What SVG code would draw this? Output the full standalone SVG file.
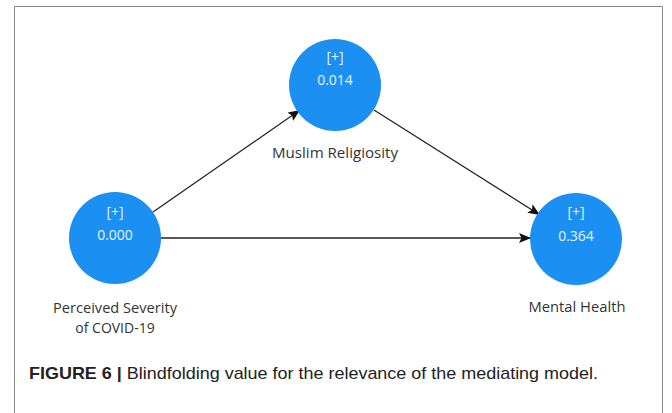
<svg xmlns="http://www.w3.org/2000/svg" width="672" height="413" viewBox="0 0 672 413">
<style>
.node{fill:#1b8ff2}
.in{font-family:"Open Sans","Noto Sans",sans-serif;font-size:14px;fill:#e8f3ff;text-anchor:middle}
.lbl{font-family:"Open Sans","Noto Sans",sans-serif;font-size:14px;fill:#333;text-anchor:middle}
.edge{stroke:#222;stroke-width:1.3;fill:none;marker-end:url(#ah)}
.cap{font-family:"Liberation Sans",Arial,sans-serif;font-size:17px;fill:#222}
</style>
<defs>
<marker id="ah" viewBox="0 0 12 10" refX="12" refY="5" markerWidth="12" markerHeight="10" markerUnits="userSpaceOnUse" orient="auto">
<path d="M0,0 L12,5 L0,10 L2.5,5 Z" fill="#111"/>
</marker>
</defs>
<rect x="0" y="0" width="672" height="413" fill="#fff"/>
<path d="M14.5,420 V6.5 H662.5 V420" fill="none" stroke="#888" stroke-width="1"/>
<g id="connectors">
<line class="edge" x1="161" y1="238" x2="531" y2="238"/>
<line class="edge" x1="153" y1="212" x2="300" y2="110"/>
<line class="edge" x1="374" y1="110" x2="540" y2="215"/>
</g>
<g id="node-perceived">
<circle class="node" cx="115" cy="238" r="46"/>
<text class="in" x="115" y="217">[+]</text>
<text class="in" x="115" y="240">0.000</text>
<text class="lbl" x="115" y="313" textLength="124" lengthAdjust="spacingAndGlyphs">Perceived Severity</text>
<text class="lbl" x="115" y="333">of COVID-19</text>
</g>
<g id="node-muslim">
<circle class="node" cx="335" cy="85" r="46"/>
<text class="in" x="335" y="62">[+]</text>
<text class="in" x="335" y="85">0.014</text>
<text class="lbl" x="335" y="158" textLength="126" lengthAdjust="spacingAndGlyphs">Muslim Religiosity</text>
</g>
<g id="node-mental">
<circle class="node" cx="576" cy="239" r="46"/>
<text class="in" x="576" y="217">[+]</text>
<text class="in" x="576" y="241">0.364</text>
<text class="lbl" x="577" y="312" textLength="97" lengthAdjust="spacingAndGlyphs">Mental Health</text>
</g>
<text class="cap" x="29" y="379" textLength="569" lengthAdjust="spacingAndGlyphs"><tspan font-weight="bold">FIGURE 6 |</tspan> Blindfolding value for the relevance of the mediating model.</text>
</svg>
